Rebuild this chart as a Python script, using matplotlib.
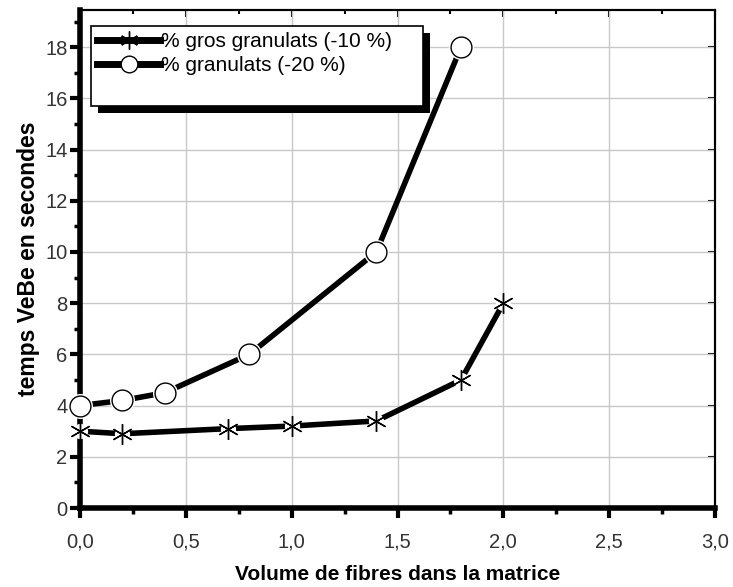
import numpy as np
import matplotlib
matplotlib.use('Agg')
import matplotlib.pyplot as plt
from matplotlib.patches import Rectangle
from matplotlib.transforms import IdentityTransform
from matplotlib.ticker import FuncFormatter, MultipleLocator

plt.rcParams['font.family'] = ['Liberation Sans', 'DejaVu Sans']

# data
x_gros = [0.0, 0.2, 0.7, 1.0, 1.4, 1.8, 2.0]
t_gros = [3.0, 2.9, 3.1, 3.2, 3.4, 5.0, 8.0]
x_gran = [0.0, 0.2, 0.4, 0.8, 1.4, 1.8]
t_gran = [4.0, 4.2, 4.5, 6.0, 10.0, 18.0]
label_gros = '% gros granulats (-10 %)'
label_gran = '% granulats (-20 %)'

fig = plt.figure(figsize=(7.33, 5.87), dpi=100)
ax = fig.add_axes([80/733, 1 - 508/587, 635/733, 498/587])

# thick lines, white halo under the markers to get small gaps
ax.plot(x_gros, t_gros, color='black', lw=4, zorder=3)
ax.plot(x_gran, t_gran, color='black', lw=4, zorder=3)
ax.plot(x_gros, t_gros, ls='none', marker='o', ms=11, mfc='white', mec='none', zorder=4, clip_on=False)
ax.plot(x_gran, t_gran, ls='none', marker='o', ms=18, mfc='white', mec='none', zorder=4, clip_on=False)
ax.plot(x_gros, t_gros, ls='none', marker=(6, 2, 0), ms=15, mec='black', mew=1.0, zorder=5, clip_on=False)
ax.plot(x_gran, t_gran, ls='none', marker='o', ms=15, mfc='white', mec='black', mew=1.0, zorder=5, clip_on=False)

# legend handles
h1, = ax.plot([], [], color='black', lw=5, marker=(6, 2, 0), ms=13, mec='black', mew=1.0)
h2, = ax.plot([], [], color='black', lw=5, marker='o', ms=12, mfc='white', mec='black', mew=1.0)
h3, = ax.plot([], [], color='none')
leg = ax.legend([h1, h2, h3], [label_gros, label_gran, ' '], loc='upper left',
                bbox_to_anchor=(11/635, 482/498, 332/635, 0.0), mode='expand',
                fontsize=15, frameon=True, fancybox=False, shadow=False, framealpha=1.0,
                edgecolor='black', handlelength=3.0, handletextpad=0.05,
                borderpad=0.3, labelspacing=0.25, borderaxespad=0)
leg.get_frame().set_linewidth(1.2)
leg.set_zorder(7)

ax.set_xlim(0, 3.0)
ax.set_ylim(0, 19.45)
ax.xaxis.set_major_locator(MultipleLocator(0.5))
ax.xaxis.set_minor_locator(MultipleLocator(0.25))
ax.yaxis.set_major_locator(MultipleLocator(2))
ax.yaxis.set_minor_locator(MultipleLocator(1))
ax.xaxis.set_major_formatter(FuncFormatter(lambda v, p: ('%.1f' % v).replace('.', ',')))
ax.yaxis.set_major_formatter(FuncFormatter(lambda v, p: '%d' % v))
ax.grid(True, which='major', color='#c8c8c8', lw=1.0)
ax.set_axisbelow(True)

ax.spines['left'].set_linewidth(4)
ax.spines['bottom'].set_linewidth(4)
ax.spines['top'].set_linewidth(1.5)
ax.spines['right'].set_linewidth(1.5)
ax.tick_params(which='major', direction='out', length=7, width=3, labelsize=14.5, colors='black')
ax.tick_params(which='minor', direction='out', length=4, width=2.5)
ax.tick_params(axis='x', which='major', pad=11)
ax.tick_params(axis='y', which='major', pad=2)
for lab in ax.get_xticklabels() + ax.get_yticklabels():
    lab.set_color('#333333')

top = ax.secondary_xaxis('top')
top.xaxis.set_major_locator(MultipleLocator(0.5))
top.xaxis.set_minor_locator(MultipleLocator(0.25))
top.tick_params(which='major', direction='in', length=5, width=1.5, labeltop=False)
top.tick_params(which='minor', direction='in', length=3, width=1.5)
top.spines['top'].set_linewidth(1.5)
right = ax.secondary_yaxis('right')
right.yaxis.set_major_locator(MultipleLocator(2))
right.yaxis.set_minor_locator(MultipleLocator(1))
right.tick_params(which='major', direction='in', length=5, width=1.5, labelright=False)
right.tick_params(which='minor', direction='in', length=0)
right.spines['right'].set_linewidth(1.5)

ax.set_xlabel('Volume de fibres dans la matrice', fontsize=15, fontweight='bold', labelpad=9)
ax.set_ylabel('temps VeBe en secondes', fontsize=16.5, fontweight='bold', labelpad=4)

# offset black shadow behind the legend box
fig.canvas.draw()
bb = leg.get_window_extent()
shadow = Rectangle((bb.x0 + 7, bb.y0 - 7), bb.width, bb.height, transform=IdentityTransform(),
                   facecolor='black', edgecolor='none', zorder=6.5, clip_on=False)
ax.add_artist(shadow)

fig.savefig('out.png', dpi=100)
